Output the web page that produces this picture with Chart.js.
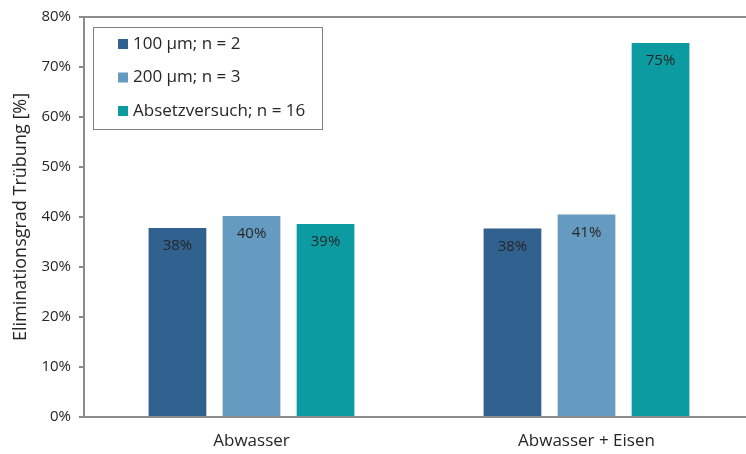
<!DOCTYPE html>
<html>
<head>
<meta charset="utf-8">
<script src="https://cdn.jsdelivr.net/npm/chart.js@4"></script>
<style>
  html, body { margin: 0; padding: 0; background: #fff; overflow: hidden; }
  #wrap { width: 746px; height: 454px; overflow: hidden; }
</style>
</head>
<body>
<div id="wrap"><canvas id="chartBar" width="754" height="454"></canvas></div>
<script>
const categories = ["Abwasser", "Abwasser + Eisen"];
const seriesNames = ["100 µm; n = 2", "200 µm; n = 3", "Absetzversuch; n = 16"];
const sieve100 = [37.8, 37.7];
const sieve200 = [40.2, 40.5];
const settling = [38.6, 74.8];
const colors = ["#31628f", "#659bc0", "#0c9ba0"];

const font = "'Open Sans', 'Noto Sans', sans-serif";
const axisGray = "#8c8c8c";

// value text inside the top of each bar
const barLabels = {
  id: "barLabels",
  afterDatasetsDraw(chart) {
    const ctx = chart.ctx;
    ctx.save();
    ctx.font = "15px " + font;
    ctx.fillStyle = "#262626";
    ctx.textAlign = "center";
    ctx.textBaseline = "middle";
    chart.data.datasets.forEach((ds, i) => {
      chart.getDatasetMeta(i).data.forEach((bar, j) => {
        ctx.fillText(Math.round(ds.data[j]) + "%", bar.x, bar.y + 18);
      });
    });
    ctx.restore();
  },
};

// boxed legend in the upper left corner of the plot
const boxLegend = {
  id: "boxLegend",
  afterDraw(chart) {
    const ctx = chart.ctx;
    const left = chart.chartArea.left + 9;
    const top = chart.chartArea.top + 10;
    ctx.save();
    ctx.strokeStyle = "#7f7f7f";
    ctx.lineWidth = 1;
    ctx.strokeRect(left + 0.5, top + 0.5, 229, 102);
    ctx.font = "17px " + font;
    ctx.textBaseline = "middle";
    chart.data.datasets.forEach((ds, i) => {
      const y = top + 17 + i * 33.5;
      ctx.fillStyle = ds.backgroundColor;
      ctx.fillRect(left + 25, y - 5, 10, 10);
      ctx.fillStyle = "#262626";
      ctx.fillText(ds.label, left + 40, y);
    });
    ctx.restore();
  },
};

new Chart(document.getElementById("chartBar").getContext("2d"), {
  type: "bar",
  data: {
    labels: categories,
    datasets: [
      { label: seriesNames[0], data: sieve100, backgroundColor: colors[0] },
      { label: seriesNames[1], data: sieve200, backgroundColor: colors[1] },
      { label: seriesNames[2], data: settling, backgroundColor: colors[2] },
    ],
  },
  options: {
    responsive: false,
    animation: false,
    categoryPercentage: 0.663,
    barPercentage: 0.78,
    layout: { padding: { top: 17, left: 0, right: 0, bottom: 0 } },
    plugins: { legend: { display: false }, tooltip: { enabled: false } },
    scales: {
      x: {
        grid: { display: false },
        border: { display: true, color: axisGray, width: 2 },
        ticks: { color: "#262626", font: { family: font, size: 17 }, padding: 6 },
        afterFit: (s) => { s.height = 37; },
      },
      y: {
        min: 0,
        max: 80,
        ticks: {
          stepSize: 10,
          color: "#262626",
          font: { family: font, size: 15 },
          padding: 8,
          callback: (v) => v + "%",
        },
        grid: {
          drawOnChartArea: true,
          color: (c) => (c.tick && c.tick.value === 80 ? axisGray : "rgba(0,0,0,0)"),
          lineWidth: 2,
          tickColor: axisGray,
          tickLength: 5,
        },
        border: { display: true, color: axisGray, width: 2 },
        title: {
          display: true,
          text: "Eliminationsgrad Trübung [%]",
          color: "#262626",
          font: { family: font, size: 18 },
          padding: { top: 10, bottom: 0 },
        },
        afterFit: (s) => { s.width = 84; },
      },
    },
  },
  plugins: [barLabels, boxLegend],
});
</script>
</body>
</html>
